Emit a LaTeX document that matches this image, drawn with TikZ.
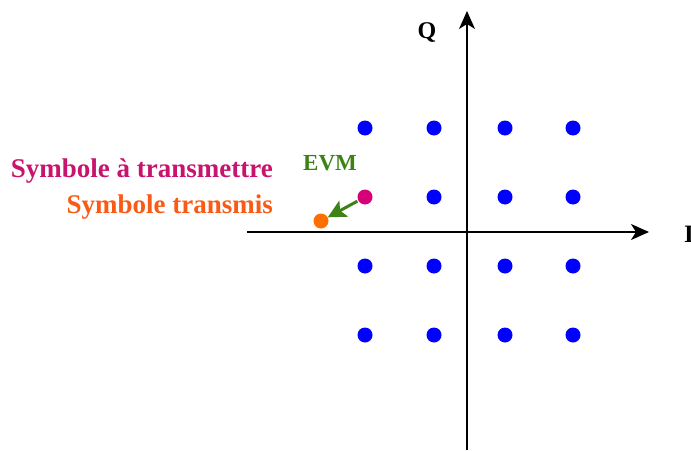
\documentclass[tikz,border=0pt]{standalone}
\usepackage{fontspec}
\setmainfont{Liberation Serif}
\usetikzlibrary{arrows.meta}
\definecolor{dotblue}{RGB}{0,0,255}
\definecolor{dotpink}{RGB}{214,0,120}
\definecolor{dotorange}{RGB}{255,110,0}
\definecolor{evmgreen}{RGB}{60,130,20}
\definecolor{txtpink}{RGB}{200,20,110}
\definecolor{txtorange}{RGB}{250,90,20}
\begin{document}
\begin{tikzpicture}[x=1pt,y=-1pt,
  axis/.style={line width=1.6pt,-{Stealth[length=18pt,width=16pt,inset=5pt]}},
  pt/.style={circle,inner sep=0pt,minimum size=15pt},
  lbl/.style={font=\bfseries\fontsize{27}{31}\selectfont,inner sep=0pt}]
\useasboundingbox (0,0) rectangle (691,450);
% axes
\coordinate (xs) at (247,232);
\coordinate (xe) at (649,232);
\coordinate (ys) at (467,450);
\coordinate (ye) at (467,11);
\draw[axis] (xs) -- (xe);
\draw[axis] (ys) -- (ye);
\node[lbl,anchor=base west,font=\bfseries\fontsize{25}{30}\selectfont] (I) at (684,242) {I};
\node[lbl,anchor=base,font=\bfseries\fontsize{24}{28}\selectfont] (Q) at (427,38) {Q};
% constellation
\foreach \i/\x in {1/365,2/434,3/505,4/573}{
  \foreach \j/\y in {1/128,2/197,3/266,4/335}{
    \ifnum\i=1 \ifnum\j=2 \else
      \node[pt,fill=dotblue] (d\i\j) at (\x,\y) {};
    \fi\else
      \node[pt,fill=dotblue] (d\i\j) at (\x,\y) {};
    \fi
  }
}
\node[pt,fill=dotpink] (ref) at (365,197) {};
\node[pt,fill=dotorange] (tx) at (321,221) {};
\draw[evmgreen,line width=3pt,-{Stealth[length=18pt,width=18pt,inset=4pt]},shorten <=1pt,shorten >=0pt] (ref) -- (tx);
\node[lbl,anchor=base,text=evmgreen,font=\bfseries\fontsize{23}{28}\selectfont] (evm) at (330,170) {EVM};
\node[lbl,text=txtpink,anchor=base east] (l1) at (273,177) {Symbole à transmettre};
\node[lbl,text=txtorange,anchor=base east] (l2) at (273,213) {Symbole transmis};
\end{tikzpicture}
\end{document}
